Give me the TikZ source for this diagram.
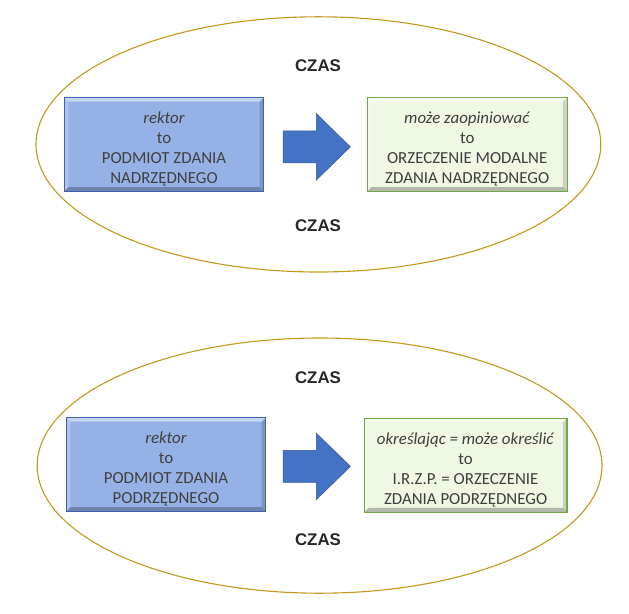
\documentclass[tikz,border=0pt]{standalone}
\usepackage{fontspec}
\setmainfont{Carlito}
\newfontfamily\czasfont{Liberation Sans}
\usetikzlibrary{shapes.geometric, positioning}

\definecolor{zloty}{HTML}{C49A1E}
\definecolor{niebieski}{HTML}{95B1E6}
\definecolor{niebieskiram}{HTML}{3E64B0}
\definecolor{zielony}{HTML}{EEF8E3}
\definecolor{zielonyram}{HTML}{6FA845}
\definecolor{strzalkakol}{HTML}{4472C4}
\definecolor{tekst}{HTML}{404040}

% podniesienie pierwszej linii w ramkach
\newcommand{\nizej}{\rule{0pt}{15pt}}

\tikzset{
  bevel/.style={path picture={
      \fill[white, opacity=0.45] (path picture bounding box.north west) -- (path picture bounding box.north east)
        -- ([shift={(-3pt,-3pt)}]path picture bounding box.north east) -- ([shift={(3pt,-3pt)}]path picture bounding box.north west) -- cycle;
      \fill[white, opacity=0.25] (path picture bounding box.north west) -- (path picture bounding box.south west)
        -- ([shift={(3pt,3pt)}]path picture bounding box.south west) -- ([shift={(3pt,-3pt)}]path picture bounding box.north west) -- cycle;
      \fill[black, opacity=0.25] (path picture bounding box.south west) -- (path picture bounding box.south east)
        -- ([shift={(-3pt,3pt)}]path picture bounding box.south east) -- ([shift={(3pt,3pt)}]path picture bounding box.south west) -- cycle;
      \fill[black, opacity=0.15] (path picture bounding box.north east) -- (path picture bounding box.south east)
        -- ([shift={(-3pt,3pt)}]path picture bounding box.south east) -- ([shift={(-3pt,-3pt)}]path picture bounding box.north east) -- cycle;
  }},
  strzalka/.pic={
      \filldraw[fill=strzalkakol, draw=strzalkakol!80!black, line width=0.4pt]
        (0,0.4) -- (0.83,0.4) -- (0.83,0.83) -- (1.68,0) -- (0.83,-0.83) -- (0.83,-0.4) -- (0,-0.4) -- cycle;
  }
}

\begin{document}
\begin{tikzpicture}[
        node distance=0.47cm,
        strefa/.style={draw=zloty, ellipse, line width=0.8pt, minimum width=14.12cm, minimum height=6.38cm},
        podmiot/.style={draw=niebieskiram, fill=niebieski, rectangle, line width=0.8pt, minimum width=4.99cm, minimum height=2.33cm, align=center, text=tekst, font=\fontsize{12}{14.4}\selectfont, bevel},
        orzeczenie/.style={draw=zielonyram, fill=zielony, rectangle, line width=0.8pt, minimum width=5cm, minimum height=2.33cm, align=center, text=tekst, font=\fontsize{12}{14.4}\selectfont, bevel},
        czas/.style={font=\czasfont\bfseries\fontsize{12}{14}\selectfont, text=black!85}
    ]
        \useasboundingbox (0,0) rectangle (15.725,-15.35);

        % --- Zdanie nadrzedne ---
        \node[strefa] (strefa1) at (7.96,-3.61) {};
        \node[czas] (czas1) at (7.95,-1.63) {CZAS};
        \node[czas] (czas2) at (7.95,-5.63) {CZAS};

        \node[podmiot] (rektor1) at (4.1,-3.61) {\nizej\textit{rektor}\\to\\PODMIOT ZDANIA\\NADRZĘDNEGO};
        \node[orzeczenie] (modalne) at (11.68,-3.61) {\nizej\textit{może zaopiniować}\\to\\ORZECZENIE MODALNE\\ZDANIA NADRZĘDNEGO};
        \path (rektor1.east) ++(0.47,-0.06) pic {strzalka};

        % --- Zdanie podrzedne ---
        \node[strefa] (strefa2) at (7.99,-11.64) {};
        \node[czas] (czas3) at (7.95,-9.45) {CZAS};
        \node[czas] (czas4) at (7.95,-13.48) {CZAS};

        \node[podmiot] (rektor2) at (4.15,-11.61) {\nizej\textit{rektor}\\to\\PODMIOT ZDANIA\\PODRZĘDNEGO};
        \node[orzeczenie, minimum width=5.07cm] (irzp) at (11.64,-11.63) {\nizej\textit{określając = może określić}\\to\\I.R.Z.P. = ORZECZENIE\\ZDANIA PODRZĘDNEGO};
        \path (rektor2.east) ++(0.42,-0.05) pic {strzalka};

    \end{tikzpicture}
\end{document}
